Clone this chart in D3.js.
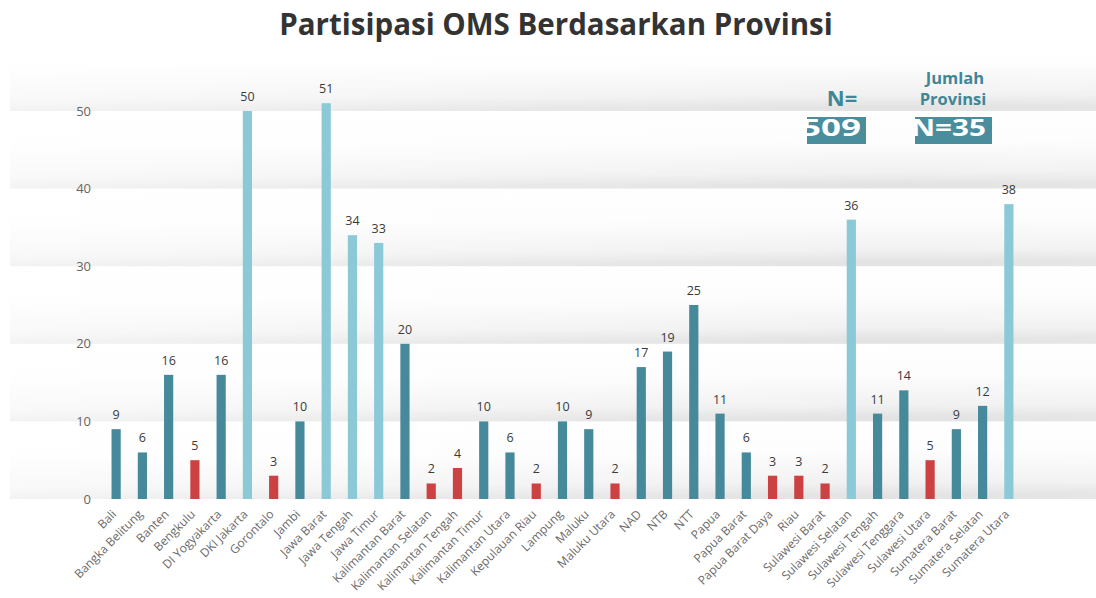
<!DOCTYPE html>
<html>
<head>
<meta charset="utf-8">
<script src="https://cdn.jsdelivr.net/npm/d3@7"></script>
<style>
  body { margin: 0; background: #fff; }
  text { font-family: "Open Sans", "DejaVu Sans", sans-serif; }
</style>
</head>
<body>
<div id="chart"></div>
<script>
const provinces = ["Bali", "Bangka Belitung", "Banten", "Bengkulu", "DI Yogyakarta", "DKI Jakarta",
  "Gorontalo", "Jambi", "Jawa Barat", "Jawa Tengah", "Jawa Timur", "Kalimantan Barat",
  "Kalimantan Selatan", "Kalimantan Tengah", "Kalimantan Timur", "Kalimantan Utara",
  "Kepulauan Riau", "Lampung", "Maluku", "Maluku Utara", "NAD", "NTB", "NTT", "Papua",
  "Papua Barat", "Papua Barat Daya", "Riau", "Sulawesi Barat", "Sulawesi Selatan",
  "Sulawesi Tengah", "Sulawesi Tenggara", "Sulawesi Utara", "Sumatera Barat",
  "Sumatera Selatan", "Sumatera Utara"];
const counts = [9, 6, 16, 5, 16, 50, 3, 10, 51, 34, 33, 20, 2, 4, 10, 6, 2, 10, 9, 2,
  17, 19, 25, 11, 6, 3, 3, 2, 36, 11, 14, 5, 9, 12, 38];
const yTicks = [0, 10, 20, 30, 40, 50];
const totalN = "509";
const provinceN = "N=35";

const width = 1096, height = 598;
const x0 = 103, x1 = 1022;   // plot band range
const yBottom = 499, yTop = 111; // pixel of 0 and 50

const svg = d3.select("#chart").append("svg")
  .attr("width", width).attr("height", height);

const x = d3.scaleBand().domain(provinces).range([x0, x1]).paddingInner(0.65).paddingOuter(0.325);
const y = d3.scaleLinear().domain([0, 50]).range([yBottom, yTop]);

// colour by size group
function colour(v) {
  if (v >= 30) return "#8bc9d7";
  if (v <= 5) return "#cc4141";
  return "#46899a";
}

const defs = svg.append("defs");
const vg = defs.append("linearGradient").attr("id", "bandGrad")
  .attr("x1", 0).attr("y1", 0).attr("x2", 0.08).attr("y2", 1);
vg.append("stop").attr("offset", "0%").attr("stop-color", "#ffffff");
vg.append("stop").attr("offset", "45%").attr("stop-color", "#fdfdfd");
vg.append("stop").attr("offset", "85%").attr("stop-color", "#f1f1f1");
vg.append("stop").attr("offset", "100%").attr("stop-color", "#e3e3e3");

const hg = defs.append("linearGradient").attr("id", "fadeGrad")
  .attr("x1", 0).attr("y1", 0).attr("x2", 1).attr("y2", 0);
hg.append("stop").attr("offset", "0%").attr("stop-color", "#fff").attr("stop-opacity", 0.45);
hg.append("stop").attr("offset", "45%").attr("stop-color", "#fff").attr("stop-opacity", 0.8);
hg.append("stop").attr("offset", "80%").attr("stop-color", "#fff").attr("stop-opacity", 1);
hg.append("stop").attr("offset", "100%").attr("stop-color", "#fff").attr("stop-opacity", 0.9);
defs.append("mask").attr("id", "fadeMask")
  .append("rect").attr("x", 10).attr("y", 0).attr("width", width - 10).attr("height", height)
  .attr("fill", "url(#fadeGrad)");

// shaded bands sitting above each gridline
const bands = svg.append("g").attr("mask", "url(#fadeMask)");
bands.selectAll("rect")
  .data(yTicks)
  .join("rect")
  .attr("x", 10)
  .attr("width", width - 10)
  .attr("y", d => y(d + 10))
  .attr("height", d => y(d) - y(d + 10))
  .attr("fill", "url(#bandGrad)");

// white cover fading into the top band
const tg = defs.append("linearGradient").attr("id", "topFade")
  .attr("x1", 0).attr("y1", 0).attr("x2", 0).attr("y2", 1);
tg.append("stop").attr("offset", "0%").attr("stop-color", "#fff").attr("stop-opacity", 1);
tg.append("stop").attr("offset", "75%").attr("stop-color", "#fff").attr("stop-opacity", 1);
tg.append("stop").attr("offset", "100%").attr("stop-color", "#fff").attr("stop-opacity", 0);
svg.append("rect").attr("x", 0).attr("y", 0).attr("width", width).attr("height", 72)
  .attr("fill", "url(#topFade)");

// y axis
const yAxis = svg.append("g")
  .attr("transform", "translate(91,0)")
  .call(d3.axisLeft(y).tickValues(yTicks).tickSize(0).tickPadding(0));
yAxis.select(".domain").remove();
yAxis.selectAll("text")
  .attr("font-size", 13).attr("fill", "#666").attr("font-family", "Open Sans");

// bars
svg.append("g").selectAll("rect")
  .data(provinces)
  .join("rect")
  .attr("x", d => x(d))
  .attr("width", x.bandwidth())
  .attr("y", (d, i) => y(counts[i]))
  .attr("height", (d, i) => y(0) - y(counts[i]))
  .attr("fill", (d, i) => colour(counts[i]));

// value labels
svg.append("g").selectAll("text")
  .data(provinces)
  .join("text")
  .attr("x", d => x(d) + x.bandwidth() / 2)
  .attr("y", (d, i) => y(counts[i]) - 10)
  .attr("text-anchor", "middle")
  .attr("font-size", 12.5)
  .attr("fill", "#3a3a3a")
  .text((d, i) => counts[i]);

// x axis
const xAxis = svg.append("g")
  .attr("transform", `translate(1,${yBottom + 16})`)
  .call(d3.axisBottom(x).tickSize(0).tickPadding(0));
xAxis.select(".domain").remove();
xAxis.selectAll("text")
  .attr("font-size", 12)
  .attr("fill", "#6a6a6a")
  .attr("font-family", "Open Sans")
  .attr("text-anchor", "end")
  .attr("dy", "0")
  .attr("dx", "0")
  .attr("transform", "rotate(-45)");

// title
svg.append("text")
  .attr("x", 556).attr("y", 35)
  .attr("text-anchor", "middle")
  .attr("font-size", 29.5)
  .attr("font-weight", "bold")
  .attr("fill", "#333")
  .text("Partisipasi OMS Berdasarkan Provinsi");

// annotation texts and boxes
const teal = "#3f8797";
svg.append("text").attr("x", 842).attr("y", 106).attr("text-anchor", "middle")
  .attr("font-size", 22).attr("font-weight", "bold").attr("fill", teal).text("N=");
svg.append("text").attr("x", 955).attr("y", 84).attr("text-anchor", "middle")
  .attr("font-size", 16.5).attr("font-weight", "bold").attr("fill", teal).text("Jumlah");
svg.append("text").attr("x", 953).attr("y", 105).attr("text-anchor", "middle")
  .attr("font-size", 16.5).attr("font-weight", "bold").attr("fill", teal).text("Provinsi");

const boxes = [
  { x: 807, w: 59, label: totalN, tx: 801, len: 60 },
  { x: 915, w: 77, label: provinceN, tx: 911, len: 75 }
];
boxes.forEach((b, i) => {
  const cp = defs.append("clipPath").attr("id", "boxClip" + i);
  cp.append("rect").attr("x", b.x).attr("y", 117).attr("width", b.w).attr("height", 27);
  svg.append("rect").attr("x", b.x).attr("y", 117).attr("width", b.w).attr("height", 27)
    .attr("fill", "#4a8d9d");
  svg.append("text").attr("x", b.tx).attr("y", 136)
    .attr("clip-path", `url(#boxClip${i})`)
    .attr("font-size", 24).attr("font-weight", "bold").attr("fill", "#fff")
    .attr("textLength", b.len).attr("lengthAdjust", "spacingAndGlyphs")
    .text(b.label);
});
</script>
</body>
</html>
